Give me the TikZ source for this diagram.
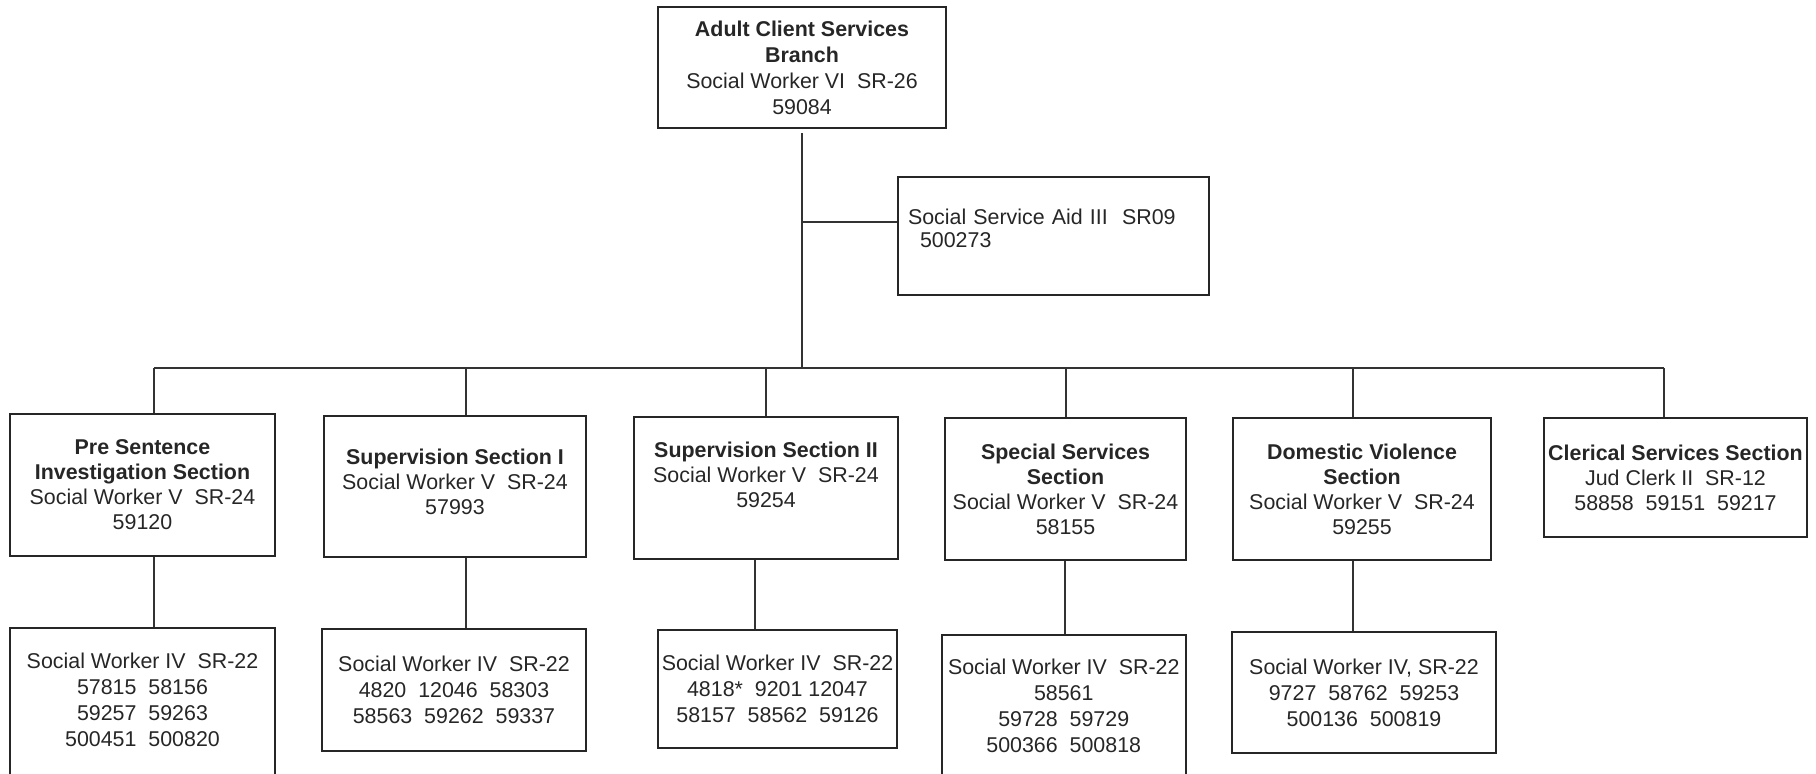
\documentclass[tikz,border=0pt]{standalone}
\usepackage{fontspec}
\setmainfont{Liberation Sans}
\begin{document}
\begin{tikzpicture}[x=0.5pt,y=-0.5pt,
  box/.style={draw=black!85, line width=1pt, rectangle, inner xsep=1pt, inner ysep=0pt,
    align=center, text=black!85, font=\fontsize{10.7}{12.5}\selectfont},
  unitbox/.style={box, font=\fontsize{10.7}{13}\selectfont},
  wire/.style={draw=black!80, line width=0.8pt}]
\useasboundingbox (0,0) rectangle (1816,773);
\clip (0,0) rectangle (1816,773);

% branch head and its aide
\node[unitbox, minimum width=144pt, minimum height=60.5pt] (top) at (802,67.5)
  {\textbf{Adult Client Services}\\\textbf{Branch}\\Social Worker VI~ SR-26\\59084};
\node[box, align=left, inner xsep=5pt, text width=145.5pt, minimum height=59pt,
  font=\fontsize{10.7}{11.5}\selectfont] (aid) at (1053.5,236)
  {Social Service Aid III~ SR09\\\hspace*{6pt}500273\\[-4pt]\mbox{}};

% sections
\node[box, minimum width=132.5pt, minimum height=71pt] (s1) at (142.5,485)
  {\textbf{Pre Sentence}\\\textbf{Investigation Section}\\Social Worker V~ SR-24\\59120};
\node[box, minimum width=131pt, minimum height=70.5pt] (s2) at (455,486.5)
  {\textbf{Supervision Section I}\\Social Worker V~ SR-24\\57993\\[-7.7pt]\mbox{}};
\node[box, minimum width=132pt, minimum height=71pt] (s3) at (766,487.5)
  {\textbf{Supervision Section II}\\Social Worker V~ SR-24\\59254\\\mbox{}};
\node[box, minimum width=120.5pt, minimum height=71pt] (s4) at (1065.5,489)
  {\textbf{Special Services}\\\textbf{Section}\\Social Worker V~ SR-24\\58155};
\node[box, minimum width=129pt, minimum height=71pt] (s5) at (1362,489)
  {\textbf{Domestic Violence}\\\textbf{Section}\\Social Worker V~ SR-24\\59255};
\node[box, minimum width=131.5pt, minimum height=59.5pt] (s6) at (1675.5,477.5)
  {\textbf{Clerical Services Section}\\Jud Clerk II~ SR-12\\58858~ 59151~ 59217};

% social worker units
\node[unitbox, minimum width=132.5pt, minimum height=86pt] (w1) at (142.5,714)
  {Social Worker IV~ SR-22\\57815~ 58156\\59257~ 59263\\500451~ 500820\\[1pt]\mbox{}};
\node[unitbox, minimum width=132pt, minimum height=61pt] (w2) at (454,690)
  {Social Worker IV~ SR-22\\4820~ 12046~ 58303\\58563~ 59262~ 59337};
\node[unitbox, minimum width=119.5pt, minimum height=59pt] (w3) at (777.5,689)
  {Social Worker IV~ SR-22\\4818*~ 9201 12047\\58157~ 58562~ 59126};
\node[unitbox, minimum width=122.25pt, minimum height=82.5pt] (w4) at (1063.75,717.5)
  {Social Worker IV~ SR-22\\58561\\59728~ 59729\\500366~ 500818\\[-1pt]\mbox{}};
\node[unitbox, minimum width=132pt, minimum height=60.5pt] (w5) at (1364,692.5)
  {Social Worker IV, SR-22\\9727~ 58762~ 59253\\500136~ 500819};

% trunk, aide branch and section bus
\coordinate (bus) at (802,368);
\coordinate (aj) at (802,222);
\draw[wire, shorten <=2pt] (top.south) -- (bus);
\draw[wire] (aj) -- (aj -| aid.west);
\coordinate (d1) at (154,368);
\coordinate (d2) at (466,368);
\coordinate (d3) at (766,368);
\coordinate (d4) at (1066,368);
\coordinate (d5) at (1353,368);
\coordinate (d6) at (1664,368);
\draw[wire] (d1) -- (d6);
\foreach \i in {1,...,6} \draw[wire] (d\i) -- (d\i |- s\i.north);

% section to unit links
\coordinate (v1) at (154,600);
\coordinate (v2) at (466,600);
\coordinate (v3) at (755,600);
\coordinate (v4) at (1065,600);
\coordinate (v5) at (1353,600);
\foreach \i in {1,...,5} \draw[wire] (v\i |- s\i.south) -- (v\i |- w\i.north);
\end{tikzpicture}
\end{document}
